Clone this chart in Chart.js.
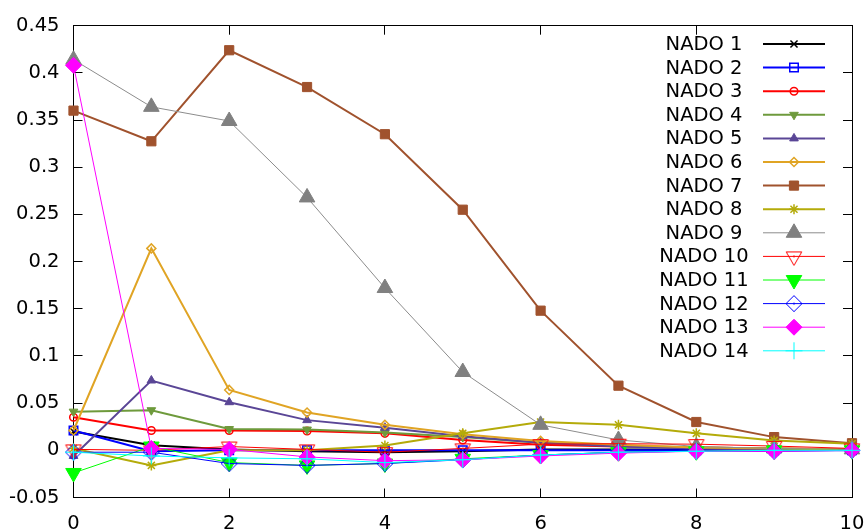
<!DOCTYPE html>
<html><head><meta charset="utf-8">
<script src="https://cdn.jsdelivr.net/npm/chart.js@4"></script>
<style>html,body{margin:0;padding:0;background:#fff}#wrap{width:868px;height:531px}</style>
</head><body><div id="wrap"><canvas id="c" width="868" height="531"></canvas></div>
<script>
const xValues = [0, 1, 2, 3, 4, 5, 6, 7, 8, 9, 10];
const seriesNames = ['NADO 1','NADO 2','NADO 3','NADO 4','NADO 5','NADO 6','NADO 7','NADO 8','NADO 9','NADO 10','NADO 11','NADO 12','NADO 13','NADO 14'];
const nado1  = [0.020, 0.0055, 0.001, -0.001, -0.002, -0.001, 0.001, 0.001, 0.001, 0.001, 0.001];
const nado2  = [0.021, -0.001, 0.000, 0.000, 0.000, 0.000, 0.000, 0.000, 0.000, 0.000, 0.000];
const nado3  = [0.035, 0.021, 0.021, 0.0205, 0.018, 0.011, 0.006, 0.004, 0.003, 0.002, 0.001];
const nado4  = [0.041, 0.0425, 0.0225, 0.022, 0.019, 0.014, 0.008, 0.005, 0.003, 0.002, 0.001];
const nado5  = [-0.006, 0.074, 0.051, 0.032, 0.024, 0.015, 0.008, 0.004, 0.002, 0.001, 0.001];
const nado6  = [0.021, 0.214, 0.064, 0.040, 0.027, 0.017, 0.010, 0.006, 0.003, 0.002, 0.001];
const nado7  = [0.360, 0.3275, 0.424, 0.385, 0.335, 0.255, 0.148, 0.0685, 0.030, 0.014, 0.0075];
const nado8  = [0.002, -0.016, 0.000, 0.000, 0.005, 0.018, 0.030, 0.027, 0.018, 0.0105, 0.007];
const nado9  = [0.414, 0.364, 0.349, 0.268, 0.172, 0.083, 0.027, 0.011, 0.004, 0.002, 0.001];
const nado10 = [0.001, 0.000, 0.004, 0.001, -0.002, 0.002, 0.0065, 0.007, 0.0065, 0.0045, 0.002];
const nado11 = [-0.024, 0.004, -0.013, -0.016, -0.014, -0.009, -0.005, -0.002, -0.001, 0.000, 0.000];
const nado12 = [-0.002, -0.002, -0.014, -0.016, -0.014, -0.010, -0.005, -0.002, -0.001, -0.001, 0.000];
const nado13 = [0.408, 0.002, 0.001, -0.007, -0.011, -0.010, -0.006, -0.003, -0.001, -0.001, 0.000];
const nado14 = [-0.002, -0.006, -0.008, -0.009, -0.013, -0.010, -0.005, -0.002, -0.001, 0.000, 0.000];
const yTickValues = [-0.05, 0, 0.05, 0.1, 0.15, 0.2, 0.25, 0.3, 0.35, 0.4, 0.45];
const xTickValues = [0, 2, 4, 6, 8, 10];

const seriesValues = [nado1,nado2,nado3,nado4,nado5,nado6,nado7,nado8,nado9,nado10,nado11,nado12,nado13,nado14];

// visual styles (not data)
const styles = [
  {line:'#000000', mark:'#000000', w:2, ps:'crossRot', r:5,   rot:0,   fill:false, mbw:1.5},
  {line:'#0000ff', mark:'#0000ff', w:2, ps:'rect',     r:6,   rot:0,   fill:false, mbw:1.5},
  {line:'#ff0000', mark:'#ff0000', w:2, ps:'circle',   r:3.8, rot:0,   fill:false, mbw:1.5},
  {line:'#6e9a3c', mark:'#6e9a3c', w:2, ps:'triangle', r:5,   rot:180, fill:true,  mbw:1},
  {line:'#5a4696', mark:'#5a4696', w:2, ps:'triangle', r:5,   rot:0,   fill:true,  mbw:1},
  {line:'#e0a424', mark:'#e0a424', w:2, ps:'rectRot',  r:4.5, rot:0,   fill:false, mbw:1.5},
  {line:'#a0522d', mark:'#a0522d', w:2, ps:'rect',     r:6.5, rot:0,   fill:true,  mbw:1},
  {line:'#b4ab0a', mark:'#b4ab0a', w:2, ps:'star',     r:5,   rot:0,   fill:false, mbw:1.5},
  {line:'#8c8c8c', mark:'#808080', w:1, ps:'triangle', r:9,   rot:0,   fill:true,  mbw:1},
  {line:'#ff0000', mark:'#ff0000', w:1, ps:'triangle', r:9,   rot:180, fill:false, mbw:1, dot:true},
  {line:'#00ff00', mark:'#00ff00', w:1, ps:'triangle', r:9,   rot:180, fill:true,  mbw:1},
  {line:'#0000ff', mark:'#0000ff', w:1, ps:'rectRot',  r:8,   rot:0,   fill:false, mbw:1, dot:true},
  {line:'#ff00ff', mark:'#ff00ff', w:1, ps:'rectRot',  r:8,   rot:0,   fill:true,  mbw:1},
  {line:'#00ffff', mark:'#00ffff', w:1, ps:'cross',    r:8.5, rot:0,   fill:false, mbw:1}
];

const FONT = {family: "'DejaVu Sans', sans-serif", size: 19.5};
const TICK_LEN = 9;

// open marker with a small centre dot, rendered to an image
function dottedMarker(s) {
  const size = 22, c = size / 2;
  const cv = document.createElement('canvas');
  cv.width = size; cv.height = size;
  const g = cv.getContext('2d');
  g.fillStyle = 'rgba(0,0,0,0)';
  g.strokeStyle = s.mark;
  g.lineWidth = s.mbw;
  Chart.helpers.drawPoint(g, {pointStyle: s.ps, rotation: s.rot, radius: s.r, borderWidth: s.mbw}, c, c);
  g.fillStyle = s.mark;
  g.fillRect(c - 0.75, c - 0.75, 1.5, 1.5);
  return cv;
}
styles.forEach(s => { s.style = s.dot ? dottedMarker(s) : s.ps; });

const datasets = seriesValues.map((vals, i) => {
  const s = styles[i];
  return {
    label: seriesNames[i],
    data: xValues.map((x, j) => ({x: x, y: vals[j]})),
    borderColor: s.line,
    borderWidth: s.w,
    backgroundColor: s.line,
    pointStyle: s.style,
    pointRadius: s.r,
    pointHoverRadius: s.r,
    pointRotation: s.dot ? 0 : s.rot,
    pointBackgroundColor: s.fill ? s.mark : 'rgba(0,0,0,0)',
    pointBorderColor: s.mark,
    pointBorderWidth: s.mbw,
    tension: 0,
    fill: false,
    clip: false,
    order: seriesValues.length - i
  };
});

const frameTicks = {
  id: 'frameTicks',
  beforeDatasetsDraw(chart) {
    const {ctx, chartArea: a, scales: {x, y}} = chart;
    const h = v => Math.round(v - 0.5) + 0.5;
    ctx.save();
    ctx.strokeStyle = '#000';
    ctx.lineWidth = 1;
    ctx.beginPath();
    xTickValues.forEach(v => {
      const px = h(x.getPixelForValue(v));
      ctx.moveTo(px, a.bottom); ctx.lineTo(px, a.bottom - TICK_LEN);
      ctx.moveTo(px, a.top); ctx.lineTo(px, a.top + TICK_LEN);
    });
    yTickValues.forEach(v => {
      const py = h(y.getPixelForValue(v));
      ctx.moveTo(a.left, py); ctx.lineTo(a.left + TICK_LEN, py);
      ctx.moveTo(a.right, py); ctx.lineTo(a.right - TICK_LEN, py);
    });
    ctx.stroke();
    ctx.strokeRect(h(a.left), h(a.top), h(a.right) - h(a.left), h(a.bottom) - h(a.top));
    ctx.restore();
  }
};

const keyBox = {
  id: 'keyBox',
  afterDraw(chart) {
    const ctx = chart.ctx;
    const textX = 704, lineX0 = 763, lineX1 = 825, markX = 794, y0 = 44, dy = 23.6;
    ctx.save();
    ctx.font = FONT.size + 'px ' + FONT.family;
    ctx.textAlign = 'center';
    ctx.textBaseline = 'middle';
    chart.data.datasets.forEach((ds, i) => {
      const s = styles[i];
      const yy = y0 + i * dy;
      ctx.fillStyle = '#000';
      ctx.fillText(ds.label, textX, yy + 1);
      ctx.strokeStyle = s.line;
      ctx.lineWidth = s.w;
      ctx.beginPath();
      ctx.moveTo(lineX0, yy); ctx.lineTo(lineX1, yy);
      ctx.stroke();
      ctx.fillStyle = s.fill ? s.mark : 'rgba(0,0,0,0)';
      ctx.strokeStyle = s.mark;
      ctx.lineWidth = s.mbw;
      Chart.helpers.drawPoint(ctx, {pointStyle: s.style, rotation: s.dot ? 0 : s.rot, radius: s.r, borderWidth: s.mbw}, markX, yy);
    });
    ctx.restore();
  }
};

new Chart(document.getElementById('c'), {
  type: 'line',
  data: {datasets: datasets},
  options: {
    responsive: false,
    animation: false,
    devicePixelRatio: 1,
    events: [],
    layout: {padding: {top: 23, right: 16, left: 0, bottom: 0}},
    plugins: {legend: {display: false}, tooltip: {enabled: false}},
    scales: {
      x: {
        type: 'linear', min: 0, max: 10,
        grid: {display: false, drawTicks: false},
        border: {display: false},
        afterBuildTicks: s => { s.ticks = xTickValues.map(v => ({value: v})); },
        afterFit: s => { s.height = 33.5; s.paddingLeft = 0; s.paddingRight = 0; },
        ticks: {color: '#000', font: FONT, padding: 15, maxRotation: 0, autoSkip: false,
                callback: v => String(v)}
      },
      y: {
        type: 'linear', min: -0.05, max: 0.45,
        grid: {display: false, drawTicks: false},
        border: {display: false},
        afterBuildTicks: s => { s.ticks = yTickValues.map(v => ({value: v})); },
        afterFit: s => { s.width = 73.5; },
        ticks: {color: '#000', font: FONT, padding: 14, autoSkip: false,
                callback: v => String(Math.round(v * 100) / 100)}
      }
    }
  },
  plugins: [frameTicks, keyBox]
});
</script>
</body></html>
